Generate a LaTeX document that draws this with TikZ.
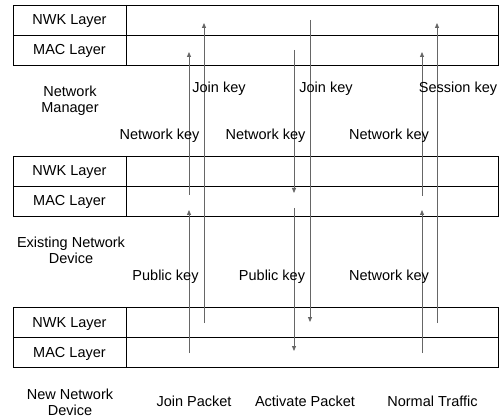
\documentclass[tikz,border=0pt]{standalone}
\usepackage{fontspec}
\setmainfont{Liberation Sans}
\usetikzlibrary{arrows.meta}

\tikzset{
  box/.style={draw, line width=0.8pt},
  txt/.style={font=\fontsize{14.5}{16}\selectfont, inner sep=0pt},
  keyline/.style={draw=black!60, line width=0.8pt, -{Triangle[length=5pt,width=4pt]}},
}

\begin{document}
\begin{tikzpicture}[x=1pt,y=-1pt]
\useasboundingbox (0,0) rectangle (500,419);
% the three devices, each with its two layers
\foreach \t/\n in {5/mgr,156/ext,307/new}{
  \draw[box] (13,\t) rectangle (498,\t+60);
  \draw[box] (13,\t+30) -- (498,\t+30);
  \draw[box] (126,\t) -- (126,\t+60);
  \node[txt, anchor=base] (\n-nwk) at (69.5,\t+20) {NWK Layer};
  \node[txt, anchor=base] (\n-mac) at (69.5,\t+50) {MAC Layer};
}
\node[txt, align=center] (mgr) at (70,101) {Network\\Manager};
\node[txt, align=center] (ext) at (71,250) {Existing Network\\Device};
\node[txt, align=center] (new) at (70,402.5) {New Network\\Device};

% key transfers
\foreach \x/\a/\b [count=\i] in {189/353/210, 189/195/52, 204/323/23,
                                 310/20/322, 294/50/193, 294/208/351,
                                 422/353/210, 422/196/52, 437/323/23}{
  \coordinate (s\i) at (\x,\a);
  \coordinate (e\i) at (\x,\b);
  \draw[keyline] (s\i) -- (e\i);
}

\node[txt, anchor=base] (joinnet) at (159.5,140) {Network key};
\node[txt, anchor=base] (joinjoin) at (219,93) {Join key};
\node[txt, anchor=base] (joinpub) at (165.5,281) {Public key};
\node[txt, anchor=base] (actnet) at (265.5,140) {Network key};
\node[txt, anchor=base] (actjoin) at (326,93) {Join key};
\node[txt, anchor=base] (actpub) at (272,281) {Public key};
\node[txt, anchor=base] (normnet) at (389,140) {Network key};
\node[txt, anchor=base] (normsess) at (458,93) {Session key};
\node[txt, anchor=base] (normnet2) at (389,281) {Network key};

\node[txt, anchor=base] (joinpk) at (194,406) {Join Packet};
\node[txt, anchor=base] (actpk) at (305,406) {Activate Packet};
\node[txt, anchor=base] (normpk) at (432.5,406) {Normal Traffic};
\end{tikzpicture}
\end{document}
